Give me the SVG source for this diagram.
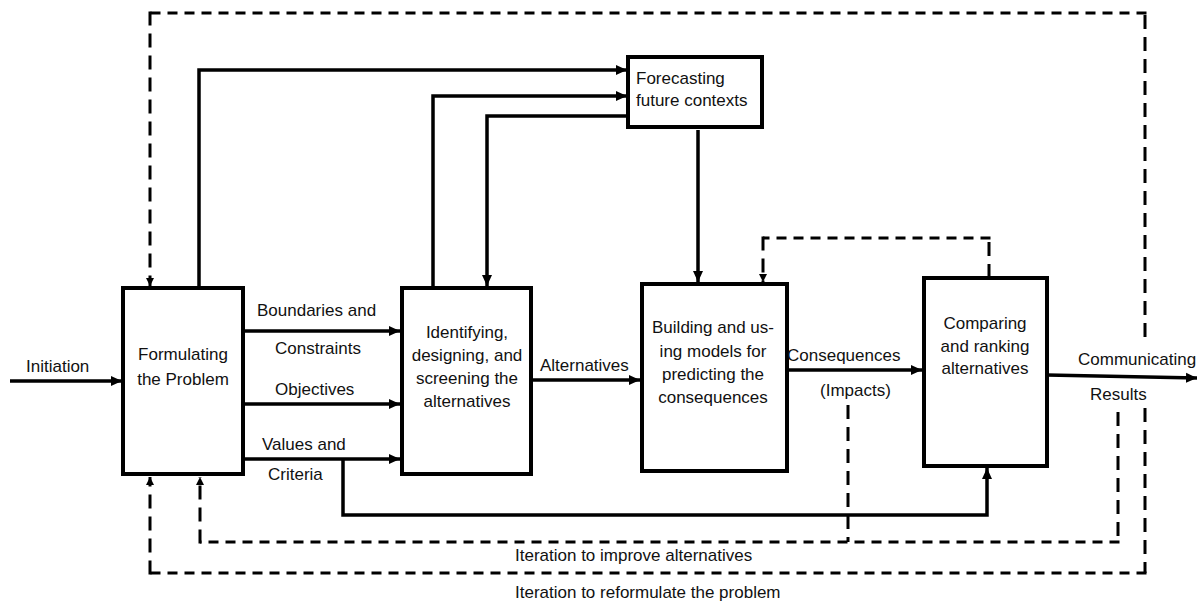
<svg xmlns="http://www.w3.org/2000/svg" width="1203" height="603" viewBox="0 0 1203 603">
  <style>
    .box { fill: #fff; stroke: #000; stroke-width: 4; }
    .lbl { font-family: "Liberation Sans", Arial, sans-serif; font-size: 17px; fill: #111; }
    .mid { text-anchor: middle; }
    .solid { fill: none; stroke: #000; stroke-width: 3.5; }
    .dh { fill: none; stroke: #000; stroke-width: 3; stroke-dasharray: 10 7; }
    .dv { fill: none; stroke: #000; stroke-width: 3; stroke-dasharray: 14 8; }
  </style>
  <defs>
    <marker id="arr" markerUnits="userSpaceOnUse" markerWidth="12" markerHeight="12" refX="11" refY="6" orient="auto">
      <path d="M0,1 L11,6 L0,11 Z" fill="#000"/>
    </marker>
    <marker id="arrs" markerUnits="userSpaceOnUse" markerWidth="9" markerHeight="9" refX="8" refY="4.5" orient="auto">
      <path d="M0,0.5 L8,4.5 L0,8.5 Z" fill="#000"/>
    </marker>
  </defs>

  <g id="connectors">
    <!-- solid flows -->
    <path class="solid" d="M10,381 H122" marker-end="url(#arr)"/>
    <path class="solid" d="M199,288 V70 H627" marker-end="url(#arr)"/>
    <path class="solid" d="M433,288 V96 H627" marker-end="url(#arr)"/>
    <path class="solid" d="M628,116 H487 V286" marker-end="url(#arr)"/>
    <path class="solid" d="M698,130 V282" marker-end="url(#arr)"/>
    <path class="solid" d="M243,331 H400" marker-end="url(#arr)"/>
    <path class="solid" d="M243,404 H400" marker-end="url(#arr)"/>
    <path class="solid" d="M243,459 H400" marker-end="url(#arr)"/>
    <path class="solid" d="M343,459 V515 H987 V468" marker-end="url(#arr)"/>
    <path class="solid" d="M531,380 H640" marker-end="url(#arr)"/>
    <path class="solid" d="M787,370 H922" marker-end="url(#arr)"/>
    <path class="solid" d="M1047,375 L1197,378" marker-end="url(#arr)"/>

    <!-- feedback from comparing back to the models -->
    <path class="dv" d="M989,278 V238"/>
    <path class="dh" d="M990.5,238 H763"/>
    <path class="dv" d="M763,236.5 V282" marker-end="url(#arrs)"/>

    <!-- iteration to improve alternatives -->
    <path class="dv" d="M1118,412 V542"/>
    <path class="dv" d="M848,405 V542"/>
    <path class="dh" d="M1119.5,542 H200"/>
    <path class="dv" d="M200,543.5 V477" marker-end="url(#arrs)"/>

    <!-- iteration to reformulate the problem -->
    <path class="dv" d="M1145,337 V13"/>
    <path class="dh" d="M1146.5,13 H150"/>
    <path class="dv" d="M150,11.5 V286" marker-end="url(#arrs)"/>
    <path class="dv" d="M1145,408 V573"/>
    <path class="dh" d="M1146.5,573 H150"/>
    <path class="dv" d="M150,574.5 V477" marker-end="url(#arrs)"/>
  </g>

  <g id="formulating">
    <rect class="box" x="123" y="288" width="120" height="186"/>
    <text class="lbl mid" x="183" y="360">Formulating</text>
    <text class="lbl mid" x="183" y="385">the Problem</text>
  </g>

  <g id="identifying">
    <rect class="box" x="402" y="288" width="129" height="186"/>
    <text class="lbl mid" x="467" y="338">Identifying,</text>
    <text class="lbl mid" x="467" y="361">designing, and</text>
    <text class="lbl mid" x="467" y="384">screening the</text>
    <text class="lbl mid" x="467" y="407">alternatives</text>
  </g>

  <g id="forecasting">
    <rect class="box" x="628" y="57" width="134" height="70"/>
    <text class="lbl" x="636" y="84">Forecasting</text>
    <text class="lbl" x="636" y="106">future contexts</text>
  </g>

  <g id="building">
    <rect class="box" x="642" y="284" width="145" height="187"/>
    <text class="lbl mid" x="713" y="333">Building and us-</text>
    <text class="lbl mid" x="713" y="357">ing models for</text>
    <text class="lbl mid" x="713" y="380">predicting the</text>
    <text class="lbl mid" x="713" y="403">consequences</text>
  </g>

  <g id="comparing">
    <rect class="box" x="924" y="278" width="123" height="188"/>
    <text class="lbl mid" x="985" y="329">Comparing</text>
    <text class="lbl mid" x="985" y="352">and ranking</text>
    <text class="lbl mid" x="985" y="374">alternatives</text>
  </g>

  <g id="labels">
    <text class="lbl" x="26" y="372">Initiation</text>
    <text class="lbl" x="257" y="316">Boundaries and</text>
    <text class="lbl" x="275" y="354">Constraints</text>
    <text class="lbl" x="275" y="395">Objectives</text>
    <text class="lbl" x="262" y="450">Values and</text>
    <text class="lbl" x="268" y="480">Criteria</text>
    <text class="lbl" x="540" y="371">Alternatives</text>
    <text class="lbl" x="787" y="361">Consequences</text>
    <text class="lbl" x="820" y="396">(Impacts)</text>
    <text class="lbl" x="1078" y="365">Communicating</text>
    <text class="lbl" x="1090" y="400">Results</text>
    <text class="lbl" x="515" y="561">Iteration to improve alternatives</text>
    <text class="lbl" x="515" y="598">Iteration to reformulate the problem</text>
  </g>
</svg>
